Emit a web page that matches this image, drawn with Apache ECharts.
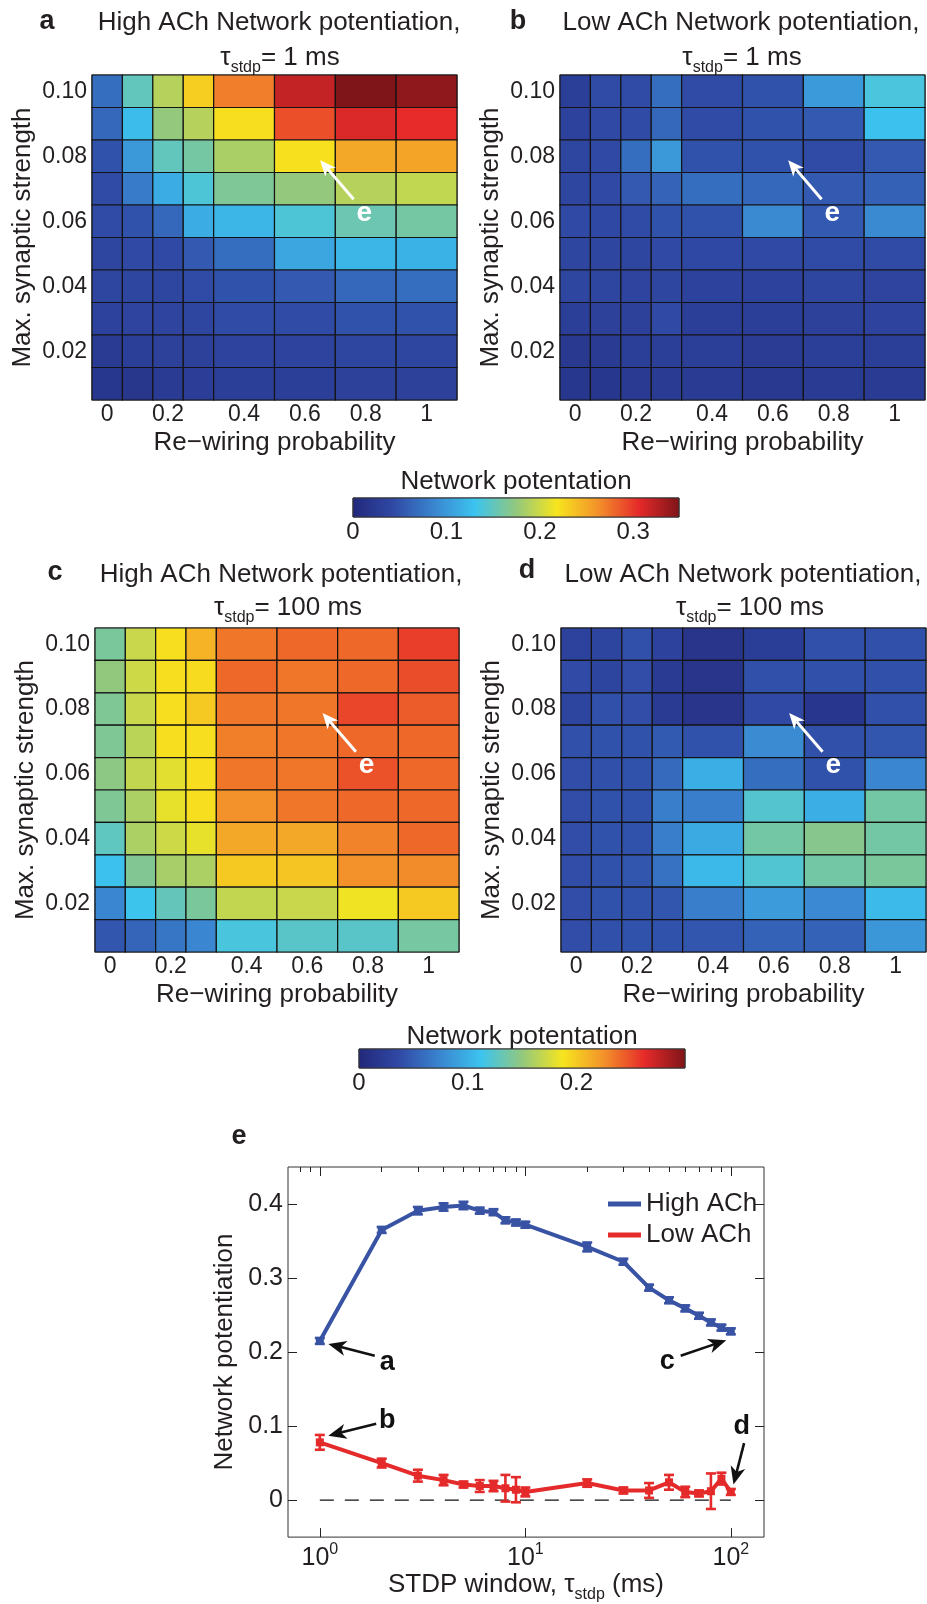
<!DOCTYPE html>
<html>
<head>
<meta charset="utf-8">
<script src="https://cdn.jsdelivr.net/npm/echarts@6/dist/echarts.min.js"></script>
<style>
  html, body { margin: 0; padding: 0; background: #fff; }
  #main { width: 927px; height: 1604px; }
</style>
</head>
<body>
<div id="main"></div>
<script>
// ---------- data ----------
const rewiring = [0, 0.1, 0.2, 0.3, 0.4, 0.6, 0.8, 1];
const rewiringTicks = [0, 0.2, 0.4, 0.6, 0.8, 1];
const synStrength = [0.10, 0.09, 0.08, 0.07, 0.06, 0.05, 0.04, 0.03, 0.02, 0.01]; // rows, top to bottom
const synTicks = [0.02, 0.04, 0.06, 0.08, 0.10];

// network potentiation, rows follow synStrength, columns follow rewiring
const highAch1 = [
  [0.070, 0.150, 0.190, 0.230, 0.270, 0.320, 0.348, 0.342],
  [0.065, 0.125, 0.175, 0.190, 0.222, 0.290, 0.310, 0.305],
  [0.050, 0.100, 0.150, 0.160, 0.185, 0.220, 0.250, 0.252],
  [0.045, 0.080, 0.115, 0.140, 0.165, 0.175, 0.190, 0.195],
  [0.045, 0.050, 0.065, 0.115, 0.120, 0.140, 0.155, 0.160],
  [0.040, 0.043, 0.043, 0.055, 0.070, 0.110, 0.120, 0.118],
  [0.040, 0.040, 0.040, 0.045, 0.050, 0.055, 0.065, 0.070],
  [0.035, 0.037, 0.037, 0.040, 0.045, 0.045, 0.050, 0.050],
  [0.025, 0.030, 0.033, 0.033, 0.036, 0.036, 0.040, 0.040],
  [0.020, 0.018, 0.025, 0.028, 0.030, 0.030, 0.033, 0.033]
];
const lowAch1 = [
  [0.030, 0.045, 0.045, 0.070, 0.045, 0.050, 0.102, 0.138],
  [0.035, 0.043, 0.045, 0.065, 0.045, 0.050, 0.055, 0.128],
  [0.040, 0.043, 0.070, 0.100, 0.050, 0.050, 0.045, 0.055],
  [0.040, 0.043, 0.055, 0.062, 0.070, 0.065, 0.055, 0.060],
  [0.043, 0.042, 0.045, 0.050, 0.050, 0.090, 0.055, 0.090],
  [0.040, 0.040, 0.040, 0.043, 0.042, 0.043, 0.045, 0.045],
  [0.040, 0.040, 0.037, 0.040, 0.035, 0.035, 0.040, 0.037],
  [0.030, 0.033, 0.033, 0.043, 0.030, 0.030, 0.033, 0.036],
  [0.022, 0.025, 0.030, 0.030, 0.030, 0.026, 0.030, 0.030],
  [0.020, 0.020, 0.024, 0.025, 0.025, 0.022, 0.025, 0.025]
];
const highAch100 = [
  [0.140, 0.170, 0.190, 0.210, 0.235, 0.240, 0.240, 0.255],
  [0.150, 0.172, 0.190, 0.192, 0.240, 0.235, 0.240, 0.250],
  [0.142, 0.170, 0.190, 0.200, 0.235, 0.235, 0.252, 0.245],
  [0.142, 0.165, 0.190, 0.190, 0.232, 0.235, 0.240, 0.240],
  [0.148, 0.168, 0.180, 0.190, 0.235, 0.235, 0.248, 0.240],
  [0.142, 0.160, 0.182, 0.190, 0.225, 0.235, 0.240, 0.240],
  [0.128, 0.160, 0.172, 0.182, 0.215, 0.215, 0.230, 0.240],
  [0.110, 0.143, 0.158, 0.160, 0.200, 0.202, 0.225, 0.227],
  [0.075, 0.113, 0.130, 0.140, 0.168, 0.170, 0.185, 0.200],
  [0.045, 0.055, 0.065, 0.075, 0.118, 0.125, 0.125, 0.138]
];
const lowAch100 = [
  [0.030, 0.033, 0.042, 0.030, 0.015, 0.025, 0.042, 0.042],
  [0.038, 0.033, 0.040, 0.022, 0.015, 0.042, 0.042, 0.042],
  [0.033, 0.042, 0.040, 0.022, 0.015, 0.037, 0.017, 0.042],
  [0.042, 0.043, 0.043, 0.048, 0.043, 0.078, 0.042, 0.045],
  [0.040, 0.042, 0.043, 0.058, 0.100, 0.060, 0.043, 0.075],
  [0.040, 0.043, 0.043, 0.070, 0.070, 0.123, 0.100, 0.137],
  [0.040, 0.043, 0.043, 0.070, 0.097, 0.137, 0.145, 0.137],
  [0.040, 0.043, 0.045, 0.063, 0.105, 0.122, 0.137, 0.140],
  [0.040, 0.043, 0.043, 0.045, 0.070, 0.088, 0.077, 0.107],
  [0.040, 0.042, 0.043, 0.043, 0.045, 0.053, 0.053, 0.085]
];

// colorbars
const cb1Max = 0.349, cb2Max = 0.30;
const cb1Ticks = [0.05, 0.1, 0.15, 0.2, 0.25, 0.3];
const cb1Labels = [0, 0.1, 0.2, 0.3];
const cb2Ticks = [0.05, 0.1, 0.15, 0.2, 0.25];
const cb2Labels = [0, 0.1, 0.2];

// panel e
const taus = [1, 2, 3, 4, 5, 6, 7, 8, 9, 10, 20, 30, 40, 50, 60, 70, 80, 90, 100];
const highAchMean = [0.215, 0.365, 0.391, 0.396, 0.398, 0.391, 0.389, 0.378, 0.375, 0.372,
                     0.342, 0.322, 0.287, 0.270, 0.259, 0.249, 0.240, 0.233, 0.228];
const highAchErr  = [0.004, 0.004, 0.005, 0.005, 0.005, 0.004, 0.004, 0.004, 0.004, 0.004,
                     0.006, 0.004, 0.004, 0.004, 0.004, 0.004, 0.004, 0.004, 0.004];
const lowAchMean  = [0.078, 0.050, 0.033, 0.027, 0.021, 0.019, 0.019, 0.016, 0.014, 0.011,
                     0.023, 0.013, 0.013, 0.024, 0.011, 0.009, 0.012, 0.029, 0.011];
const lowAchErr   = [0.010, 0.006, 0.008, 0.007, 0.004, 0.008, 0.007, 0.018, 0.017, 0.006,
                     0.005, 0.004, 0.010, 0.010, 0.007, 0.004, 0.024, 0.008, 0.004];
const zeroLine = [[1, 0], [100, 0]];
const tauLimits = [0.7, 145];
const tauMajor = [1, 10, 100];
const tauMinor = [0.8, 0.9, 2, 3, 4, 5, 6, 7, 8, 9, 20, 30, 40, 50, 60, 70, 80, 90];
const potTicks = [0, 0.1, 0.2, 0.3, 0.4];

// ---------- look ----------
const FONT = '"Liberation Sans", Arial, Helvetica, sans-serif';
const INK = '#231f20';
const BLUE = '#3953a4';
const RED = '#e42a2a';
const jet = ['#22287a', '#3049a5', '#3a86d0', '#3cc4ef', '#92c87e', '#f7e51e', '#f3922a', '#e62a2a', '#7d1418'];

// column widths of the cells in the original figure (first four narrow)
const colSpan = [1, 1, 1, 1, 2, 2, 2, 2];
const colEdge = [0];
colSpan.forEach((w, i) => colEdge.push(colEdge[i] + w));
const colCenter = colSpan.map((w, i) => (colEdge[i] + colEdge[i + 1]) / 2);
const rowHalf = 0.005;

function cellData(mat) {
  const out = [];
  mat.forEach((row, r) => row.forEach((v, c) => out.push([colCenter[c], synStrength[r], v, colSpan[c]])));
  return out;
}

function cellItem(params, api) {
  const xc = api.value(0), y = api.value(1), w = api.value(3);
  const p0 = api.coord([xc - w / 2, y + rowHalf]);
  const p1 = api.coord([xc + w / 2, y - rowHalf]);
  return {
    type: 'rect',
    shape: { x: p0[0], y: p0[1], width: p1[0] - p0[0], height: p1[1] - p0[1] },
    style: { fill: api.visual('color'), stroke: '#141414', lineWidth: 1.2 }
  };
}

function arrowParts(p0, p1, color, lw, headLen, headW) {
  const dx = p1[0] - p0[0], dy = p1[1] - p0[1];
  const L = Math.hypot(dx, dy), ux = dx / L, uy = dy / L, nx = -uy, ny = ux;
  const bx = p1[0] - ux * headLen, by = p1[1] - uy * headLen;
  const mx = p1[0] - ux * headLen * 0.72, my = p1[1] - uy * headLen * 0.72;
  return [
    { type: 'line', shape: { x1: p0[0], y1: p0[1], x2: mx, y2: my }, style: { stroke: color, lineWidth: lw } },
    { type: 'polygon', shape: { points: [[p1[0], p1[1]], [bx + nx * headW / 2, by + ny * headW / 2], [mx, my], [bx - nx * headW / 2, by - ny * headW / 2]] },
      style: { fill: color } }
  ];
}

// white "e" arrows on the maps, in cell units
const eArrow = { tail: [8.6, 0.0668], tip: [7.5, 0.0788], text: [8.95, 0.0625] };
function eArrowItem(params, api) {
  const p0 = api.coord(eArrow.tail), p1 = api.coord(eArrow.tip), pt = api.coord(eArrow.text);
  return { type: 'group', children: arrowParts(p0, p1, '#fff', 3, 16, 14).concat([{
    type: 'text', x: pt[0], y: pt[1],
    style: { text: 'e', fill: '#fff', font: 'bold 28px ' + FONT, align: 'center', verticalAlign: 'middle',
             textAlign: 'center', textVerticalAlign: 'middle' }
  }]) };
}

// black annotation arrows on panel e, in data units
const lineArrows = [
  { label: 'a', tail: [1.85, 0.195], tip: [1.1, 0.211], text: [2.13, 0.186] },
  { label: 'b', tail: [1.88, 0.103], tip: [1.1, 0.087], text: [2.13, 0.107] },
  { label: 'c', tail: [57, 0.195], tip: [95, 0.216], text: [49, 0.187] },
  { label: 'd', tail: [116, 0.077], tip: [103, 0.021], text: [113, 0.099] }
];
function lineArrowItem(params, api) {
  const a = lineArrows[params.dataIndex];
  const p0 = api.coord([Math.log10(a.tail[0]), a.tail[1]]);
  const p1 = api.coord([Math.log10(a.tip[0]), a.tip[1]]);
  const pt = api.coord([Math.log10(a.text[0]), a.text[1]]);
  return { type: 'group', children: arrowParts(p0, p1, '#111', 2.6, 18, 15).concat([{
    type: 'text', x: pt[0], y: pt[1],
    style: { text: a.label, fill: '#111', font: 'bold 27px ' + FONT, align: 'center', verticalAlign: 'middle',
             textAlign: 'center', textVerticalAlign: 'middle' }
  }]) };
}

function errorItem(color) {
  return function (params, api) {
    const x = api.value(0), m = api.value(1), e = api.value(2);
    const t = api.coord([x, m + e]), b = api.coord([x, m - e]);
    const cw = 5, st = { stroke: color, lineWidth: 2.6 };
    return { type: 'group', children: [
      { type: 'line', shape: { x1: t[0], y1: t[1], x2: b[0], y2: b[1] }, style: st },
      { type: 'line', shape: { x1: t[0] - cw, y1: t[1], x2: t[0] + cw, y2: t[1] }, style: st },
      { type: 'line', shape: { x1: b[0] - cw, y1: b[1], x2: b[0] + cw, y2: b[1] }, style: st }
    ] };
  };
}

function colorbarItem(params, api) {
  const cs = params.coordSys;
  return {
    type: 'rect',
    shape: { x: cs.x, y: cs.y, width: cs.width, height: cs.height },
    style: {
      fill: new echarts.graphic.LinearGradient(0, 0, 1, 0, jet.map((c, i) => ({ offset: i / (jet.length - 1), color: c }))),
      stroke: '#333', lineWidth: 1
    }
  };
}

// ---------- layout ----------
const heatGrids = [
  { left: 92, top: 75, width: 365, height: 325 },
  { left: 560, top: 75, width: 365, height: 325 },
  { left: 95, top: 628, width: 364, height: 324 },
  { left: 561, top: 628, width: 365, height: 324 }
];
const grids = heatGrids.concat([
  { left: 353, top: 498, width: 326, height: 19 },
  { left: 359, top: 1049, width: 326, height: 19 },
  { left: 288, top: 1167, width: 476, height: 377 }
]).map(g => Object.assign({ show: true, borderColor: '#333', borderWidth: 1, backgroundColor: 'transparent' }, g));

const tickLabelCenters = rewiringTicks.map(t => colCenter[rewiring.indexOf(t)]);
function probLabel(v) {
  const i = colCenter.findIndex(c => Math.abs(c - v) < 1e-6);
  return i < 0 ? '' : String(rewiring[i]);
}

const noLine = { show: false, onZero: false };
const xAxes = [], yAxes = [];
heatGrids.forEach((g, i) => {
  xAxes.push({
    gridIndex: i, type: 'value', min: 0, max: colEdge[colEdge.length - 1],
    axisLine: noLine, axisTick: { show: false }, splitLine: { show: false },
    axisLabel: { customValues: tickLabelCenters, formatter: probLabel, fontSize: 23, fontFamily: FONT, color: INK, margin: 3 },
    name: 'Re\u2212wiring probability', nameLocation: 'middle', nameGap: 30,
    nameTextStyle: { fontSize: 26, fontFamily: FONT, color: INK }
  });
  yAxes.push({
    gridIndex: i, type: 'value', min: 0.005, max: 0.105,
    axisLine: noLine, axisTick: { show: false }, splitLine: { show: false },
    axisLabel: { customValues: synTicks, formatter: v => v.toFixed(2), fontSize: 23, fontFamily: FONT, color: INK, margin: 5 },
    name: 'Max. synaptic strength', nameLocation: 'middle', nameGap: 56, nameRotate: 90,
    nameTextStyle: { fontSize: 26, fontFamily: FONT, color: INK }
  });
});

function cbAxes(gi, max, ticks, labels) {
  const tick = { show: true, inside: true, length: 4, customValues: ticks, lineStyle: { color: '#222', width: 1 } };
  xAxes.push({
    gridIndex: gi, type: 'value', min: 0, max: max, axisLine: noLine, splitLine: { show: false },
    axisTick: tick,
    axisLabel: { customValues: labels, formatter: v => String(+v.toFixed(2)), fontSize: 24, fontFamily: FONT, color: INK, margin: 3 }
  });
  xAxes.push({
    gridIndex: gi, type: 'value', position: 'top', min: 0, max: max, axisLine: noLine, splitLine: { show: false },
    axisTick: tick, axisLabel: { show: false }
  });
  yAxes.push({ gridIndex: gi, type: 'value', min: 0, max: 1, show: false, axisLine: noLine });
}
cbAxes(4, cb1Max, cb1Ticks, cb1Labels);   // x 4,5  y 4
cbAxes(5, cb2Max, cb2Ticks, cb2Labels);   // x 6,7  y 5

const lx = tauLimits.map(Math.log10);
const majTick = { show: true, inside: true, length: 9, customValues: tauMajor.map(Math.log10), lineStyle: { color: '#222', width: 1 } };
const minTick = { show: true, inside: true, length: 5, customValues: tauMinor.map(Math.log10), lineStyle: { color: '#222', width: 1 } };
xAxes.push({
  gridIndex: 6, type: 'value', min: lx[0], max: lx[1], axisLine: noLine, splitLine: { show: false },
  axisTick: majTick,
  axisLabel: {
    customValues: tauMajor.map(Math.log10), margin: 4,
    formatter: v => '{b|10}{s|' + Math.round(v) + '}',
    rich: {
      b: { fontSize: 25, fontFamily: FONT, color: INK, verticalAlign: 'top', padding: [5, 0, 0, 0] },
      s: { fontSize: 16, fontFamily: FONT, color: INK, verticalAlign: 'top' }
    }
  },
  name: '{t|STDP window, \u03c4}{s|stdp}{t| (ms)}', nameLocation: 'middle', nameGap: 30,
  nameTextStyle: {
    rich: {
      t: { fontSize: 26, fontFamily: FONT, color: INK, verticalAlign: 'top' },
      s: { fontSize: 16, fontFamily: FONT, color: INK, verticalAlign: 'top', padding: [15, 0, 0, 0] }
    }
  }
});
xAxes.push({ gridIndex: 6, type: 'value', min: lx[0], max: lx[1], axisLine: noLine, splitLine: { show: false }, axisTick: minTick, axisLabel: { show: false } });
xAxes.push({ gridIndex: 6, type: 'value', position: 'top', min: lx[0], max: lx[1], axisLine: noLine, splitLine: { show: false }, axisTick: majTick, axisLabel: { show: false } });
xAxes.push({ gridIndex: 6, type: 'value', position: 'top', min: lx[0], max: lx[1], axisLine: noLine, splitLine: { show: false }, axisTick: minTick, axisLabel: { show: false } });

const potTick = { show: true, inside: true, length: 9, customValues: potTicks, lineStyle: { color: '#222', width: 1 } };
yAxes.push({
  gridIndex: 6, type: 'value', min: -0.05, max: 0.45, axisLine: noLine, splitLine: { show: false },
  axisTick: potTick,
  axisLabel: { customValues: potTicks, formatter: v => (v === 0 ? '0' : v.toFixed(1)), fontSize: 25, fontFamily: FONT, color: INK, margin: 5 },
  name: 'Network potentiation', nameLocation: 'middle', nameGap: 50, nameRotate: 90,
  nameTextStyle: { fontSize: 26, fontFamily: FONT, color: INK }
});
yAxes.push({ gridIndex: 6, type: 'value', position: 'right', min: -0.05, max: 0.45, axisLine: noLine, splitLine: { show: false }, axisTick: potTick, axisLabel: { show: false } });

// ---------- series ----------
const maps = [highAch1, lowAch1, highAch100, lowAch100];
const series = [];
maps.forEach((m, i) => series.push({
  type: 'custom', xAxisIndex: i, yAxisIndex: i, renderItem: cellItem, data: cellData(m),
  encode: { x: 0, y: 1 }, silent: true, z: 2
}));
maps.forEach((m, i) => series.push({
  type: 'custom', xAxisIndex: i, yAxisIndex: i, renderItem: eArrowItem, data: [eArrow.tip],
  silent: true, z: 5
}));
series.push({ type: 'custom', xAxisIndex: 4, yAxisIndex: 4, renderItem: colorbarItem, data: [[0, 0]], silent: true });
series.push({ type: 'custom', xAxisIndex: 6, yAxisIndex: 5, renderItem: colorbarItem, data: [[0, 0]], silent: true });

series.push({
  type: 'line', xAxisIndex: 8, yAxisIndex: 6, data: zeroLine.map(p => [Math.log10(p[0]), p[1]]),
  symbol: 'none', silent: true, lineStyle: { color: '#111', width: 1.2, type: [14, 11] }, z: 1
});
series.push({
  name: 'High ACh', type: 'line', xAxisIndex: 8, yAxisIndex: 6,
  data: taus.map((t, i) => [Math.log10(t), highAchMean[i]]),
  symbol: 'rect', symbolSize: 8, lineStyle: { color: BLUE, width: 4 }, itemStyle: { color: BLUE }, z: 3
});
series.push({
  name: 'Low ACh', type: 'line', xAxisIndex: 8, yAxisIndex: 6,
  data: taus.map((t, i) => [Math.log10(t), lowAchMean[i]]),
  symbol: 'rect', symbolSize: 8, lineStyle: { color: RED, width: 4 }, itemStyle: { color: RED }, z: 3
});
series.push({
  type: 'custom', xAxisIndex: 8, yAxisIndex: 6, renderItem: errorItem(BLUE), silent: true, z: 4,
  data: taus.map((t, i) => [Math.log10(t), highAchMean[i], highAchErr[i]])
});
series.push({
  type: 'custom', xAxisIndex: 8, yAxisIndex: 6, renderItem: errorItem(RED), silent: true, z: 4,
  data: taus.map((t, i) => [Math.log10(t), lowAchMean[i], lowAchErr[i]])
});
series.push({
  type: 'custom', xAxisIndex: 8, yAxisIndex: 6, renderItem: lineArrowItem, silent: true, z: 6,
  data: lineArrows.map(a => [Math.log10(a.tip[0]), a.tip[1]])
});

// ---------- titles ----------
const tauRich = {
  t: { fontSize: 26, fontFamily: FONT, fill: INK, color: INK, verticalAlign: 'top' },
  s: { fontSize: 16, fontFamily: FONT, fill: INK, color: INK, verticalAlign: 'top', padding: [15, 0, 0, 0] }
};
function txt(x, y, text, font) {
  return { type: 'text', x: x, y: y, silent: true,
    style: { text: text, font: font, fill: INK, align: 'center', verticalAlign: 'middle', textAlign: 'center', textVerticalAlign: 'middle' } };
}
function tauTxt(x, y, ms) {
  return { type: 'text', x: x, y: y, silent: true,
    style: { text: '{t|\u03c4}{s|stdp}{t|= ' + ms + ' ms}', rich: tauRich, fill: INK, align: 'center', verticalAlign: 'middle',
             textAlign: 'center', textVerticalAlign: 'middle' } };
}
const F26 = '26px ' + FONT, B27 = 'bold 27px ' + FONT;
const graphic = [
  txt(47, 22, 'a', B27), txt(279, 23, 'High ACh Network potentiation,', F26), tauTxt(280, 60, 1),
  txt(518, 22, 'b', B27), txt(741, 23, 'Low ACh Network potentiation,', F26), tauTxt(742, 60, 1),
  txt(55, 573, 'c', B27), txt(281, 575, 'High ACh Network potentiation,', F26), tauTxt(288, 610, 100),
  txt(527, 571, 'd', B27), txt(743, 575, 'Low ACh Network potentiation,', F26), tauTxt(750, 610, 100),
  txt(516, 482, 'Network potentation', F26),
  txt(522, 1037, 'Network potentation', F26),
  txt(239, 1137, 'e', B27)
];

const chart = echarts.init(document.getElementById('main'), null, { renderer: 'canvas' });
chart.setOption({
  backgroundColor: '#fff',
  animation: false,
  textStyle: { fontFamily: FONT },
  grid: grids,
  xAxis: xAxes,
  yAxis: yAxes,
  visualMap: [
    { type: 'continuous', show: false, seriesIndex: [0, 1], dimension: 2, min: 0, max: cb1Max, inRange: { color: jet } },
    { type: 'continuous', show: false, seriesIndex: [2, 3], dimension: 2, min: 0, max: cb2Max, inRange: { color: jet } }
  ],
  legend: {
    data: ['High ACh', 'Low ACh'], orient: 'vertical', left: 603, top: 1186, itemGap: 5,
    icon: 'rect', itemWidth: 33, itemHeight: 5, itemStyle: { borderWidth: 0 },
    textStyle: { fontSize: 26, fontFamily: FONT, color: INK }, selectedMode: false
  },
  graphic: graphic,
  series: series
});
</script>
</body>
</html>
